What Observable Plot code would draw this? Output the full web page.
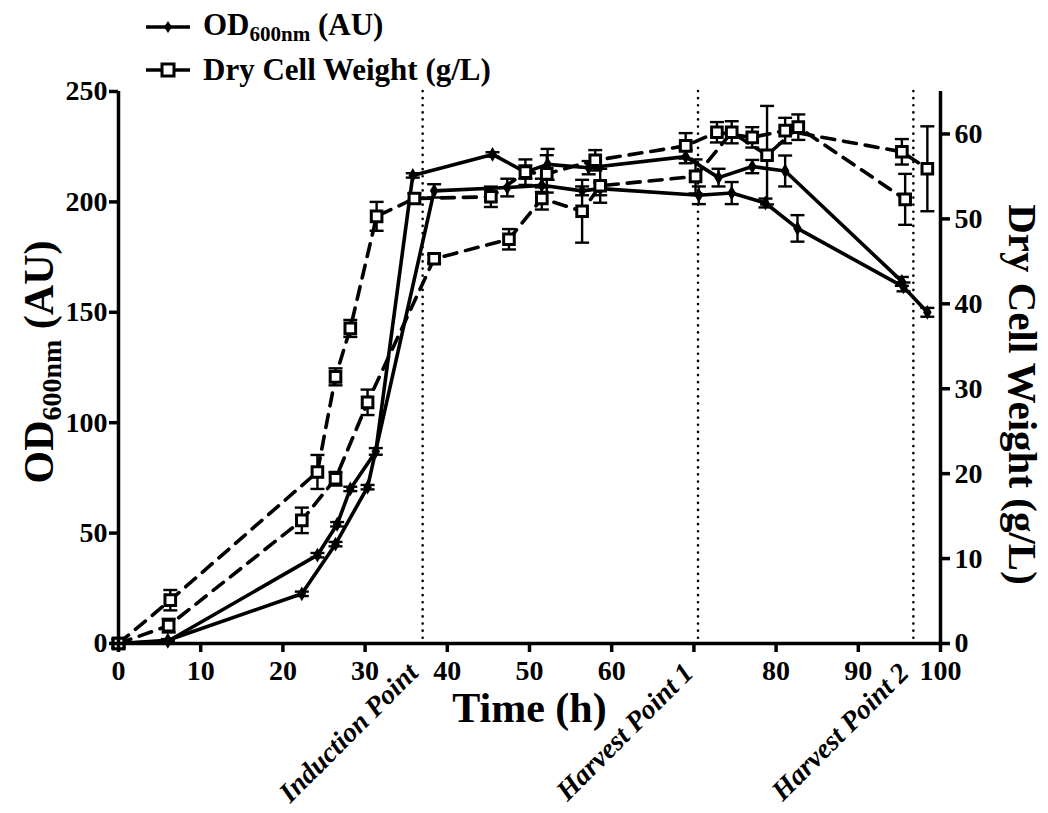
<!DOCTYPE html>
<html><head><meta charset="utf-8">
<script src="https://cdn.jsdelivr.net/npm/d3@7"></script>
<script src="https://cdn.jsdelivr.net/npm/@observablehq/plot@0.6"></script>
<style>
body{margin:0;background:#fff;font-family:"Liberation Serif","Times New Roman",serif;}
#legend{position:relative;height:60px;width:1048px;z-index:2;}
.item{position:absolute;left:143px;height:36px;display:flex;align-items:center;font-weight:bold;font-size:31px;color:#000;white-space:nowrap;}
.item svg{margin-right:10px;}
.item sub{font-size:21px;vertical-align:-6px;}
</style></head><body>
<div id="legend">
  <div class="item" style="top:9px;">
    <svg width="50" height="20"><line x1="3" x2="47" y1="10" y2="10" stroke="#000" stroke-width="3.5"/><path d="M25,4 L29,10 L25,16 L21,10 Z" fill="#000"/></svg>
    <span>OD<sub>600nm</sub> (AU)</span>
  </div>
  <div class="item" style="top:52px;">
    <svg width="50" height="20"><line x1="3" x2="47" y1="10" y2="10" stroke="#000" stroke-width="3.5"/><rect x="19" y="4" width="12" height="12" fill="#fff" stroke="#000" stroke-width="3"/></svg>
    <span>Dry Cell Weight (g/L)</span>
  </div>
</div>
<div id="chart"></div>
<script>
// ---- data ----
const odA_t = [0, 6, 24.2, 26.6, 28.2, 31.3, 35.8, 45.5, 49.5, 52.2, 57.2, 69, 73, 77.1, 81.1, 95.3];
const odA_v = [0, 1, 40, 54, 70, 87, 212, 221.5, 213.5, 217, 215.5, 220.5, 211, 216, 214, 164];
const odA_e = [0.5, 0.5, 1, 1, 1, 1.5, 1, 1, 3, 7, 3, 3, 4, 3, 7, 2];

const odB_t = [0, 6, 22.3, 26.4, 30.3, 38.4, 47.3, 51.5, 56.4, 58.6, 70.6, 74.6, 78.7, 82.6, 95.5, 98.4];
const odB_v = [0, 1.5, 22.5, 45, 70.8, 205, 206.5, 207.5, 205, 206, 203, 204, 199.5, 188, 161.5, 150];
const odB_e = [0.5, 0.5, 1, 1, 1, 3, 4, 3, 2, 3, 4, 5, 2, 6, 2, 2];

const dcwC_t = [0, 6.3, 24.2, 26.4, 28.2, 31.4, 36, 45.3, 49.5, 52.1, 58, 69, 72.8, 77.1, 81.1, 95.3, 98.4];
const dcwC_v = [0, 5.1, 20.2, 31.4, 37.1, 50.3, 52.4, 52.6, 55.5, 55.3, 56.9, 58.6, 60.2, 59.6, 60.4, 57.9, 55.9];
const dcwC_e = [0.5, 1.2, 2, 1, 1, 1.7, 0.6, 1.2, 1.5, 2.2, 1.2, 1.5, 1.2, 1.2, 1.5, 1.5, 5];

const dcwD_t = [0, 6.1, 22.3, 26.4, 30.3, 38.4, 47.5, 51.5, 56.4, 58.6, 70.2, 74.6, 78.9, 82.7, 95.7];
const dcwD_v = [0, 2.1, 14.5, 19.4, 28.4, 45.3, 47.6, 52.4, 50.9, 53.9, 55, 60.2, 57.5, 60.8, 52.3];
const dcwD_e = [0.5, 0.8, 1.5, 0.8, 1.5, 0.5, 1.2, 1.3, 3.7, 2, 2, 1.3, 5.8, 1.5, 3];

const eventTimes = [37, 70.5, 96.7];
const eventLabels = ["Induction Point", "Harvest Point 1", "Harvest Point 2"];

const xTicks = [0, 10, 20, 30, 40, 50, 60, 70, 80, 90, 100];
const xTickLabels = ["0", "10", "20", "30", "40", "50", "60", "", "80", "90", "100"];
const odTicks = [0, 50, 100, 150, 200, 250];
const dcwTicks = [0, 10, 20, 30, 40, 50, 60];
const odMax = 250, dcwMax = 65;

// ---- tables ----
const K = odMax / dcwMax; // DCW -> OD scale
const mk = (s, t, v, e, k) => t.map((ti, i) => ({series: s, t: ti, v: v[i] * k, e: e[i] * k}));
const od = [...mk("A", odA_t, odA_v, odA_e, 1), ...mk("B", odB_t, odB_v, odB_e, 1)];
const dcw = [...mk("C", dcwC_t, dcwC_v, dcwC_e, K), ...mk("D", dcwD_t, dcwD_v, dcwD_e, K)];
const all = [...od, ...dcw];
const events = eventTimes.map((t, i) => ({t, label: eventLabels[i]}));

const cap = {draw(ctx, size) { const w = Math.sqrt(size / Math.PI); ctx.moveTo(-w, 0); ctx.lineTo(w, 0); }};
const FONT = '"Liberation Serif", "Times New Roman", serif';
const MT = 31, H = 753, MB = 170;

const chart = Plot.plot({
  width: 1048, height: H,
  marginTop: MT, marginBottom: MB, marginLeft: 118, marginRight: 108,
  x: {domain: [0, 100]},
  y: {domain: [0, odMax]},
  style: {fontFamily: FONT, fontWeight: "bold", fontSize: "28px", color: "#000", background: "transparent"},
  marks: [
    Plot.ruleX(eventTimes, {stroke: "#000", strokeWidth: 2.6, strokeDasharray: "0.1,7", strokeLinecap: "round"}),
    Plot.ruleX(all, {x: "t", y1: d => d.v - d.e, y2: d => d.v + d.e, stroke: "#000", strokeWidth: 2.4}),
    Plot.dot(all, {x: "t", y: d => d.v + d.e, symbol: cap, r: 7, fill: "none", stroke: "#000", strokeWidth: 2.4}),
    Plot.dot(all, {x: "t", y: d => d.v - d.e, symbol: cap, r: 7, fill: "none", stroke: "#000", strokeWidth: 2.4}),
    Plot.line(od, {x: "t", y: "v", z: "series", stroke: "#000", strokeWidth: 3.6}),
    Plot.line(dcw, {x: "t", y: "v", z: "series", stroke: "#000", strokeWidth: 3.6, strokeDasharray: "13,9"}),
    Plot.dot(od, {x: "t", y: "v", symbol: "diamond", fill: "#000", r: 4.5}),
    Plot.dot(dcw, {x: "t", y: "v", symbol: "square", fill: "#fff", stroke: "#000", strokeWidth: 3, r: 6}),
    Plot.ruleY([0], {stroke: "#000", strokeWidth: 3.5}),
    Plot.ruleX([0, 100], {stroke: "#000", strokeWidth: 3.5}),
    Plot.axisX({ticks: xTicks, tickFormat: d => xTickLabels[xTicks.indexOf(d)], tickSize: 9, tickPadding: 8, strokeWidth: 3.5, label: null}),
    Plot.axisY({anchor: "left", ticks: odTicks, tickSize: 9, tickPadding: 2, strokeWidth: 3.5, label: null}),
    Plot.axisY({anchor: "right", ticks: dcwTicks.map(d => d * K), tickFormat: d => String(Math.round(d / K)), tickSize: 9, tickPadding: 5, strokeWidth: 3.5, label: null}),
    Plot.text(["Time (h)"], {text: d => d, frameAnchor: "bottom", dy: 78, fontSize: 42}),
    Plot.text(events, {x: "t", text: "label", frameAnchor: "bottom", rotate: -45, textAnchor: "end", dx: -3, dy: 31, fontSize: 28, fontStyle: "italic"}),
    Plot.text(["Dry Cell Weight (g/L)"], {text: d => d, frameAnchor: "right", textAnchor: "middle", dx: 82, dy: 27, rotate: 90, fontSize: 41})
  ]
});

// left axis title with subscript
const lbl = d3.select(chart).append("text")
  .attr("transform", `translate(38, ${(MT + H - MB) / 2 - 5}) rotate(-90)`)
  .attr("text-anchor", "middle").attr("dy", "0.35em")
  .style("font-size", "42px").style("font-weight", "bold").style("font-family", FONT).attr("fill", "#000");
lbl.append("tspan").text("OD");
lbl.append("tspan").text("600nm").style("font-size", "28px").attr("dy", "8");
lbl.append("tspan").text(" (AU)").attr("dy", "-8");

document.getElementById("chart").appendChild(chart);
</script>
</body></html>
